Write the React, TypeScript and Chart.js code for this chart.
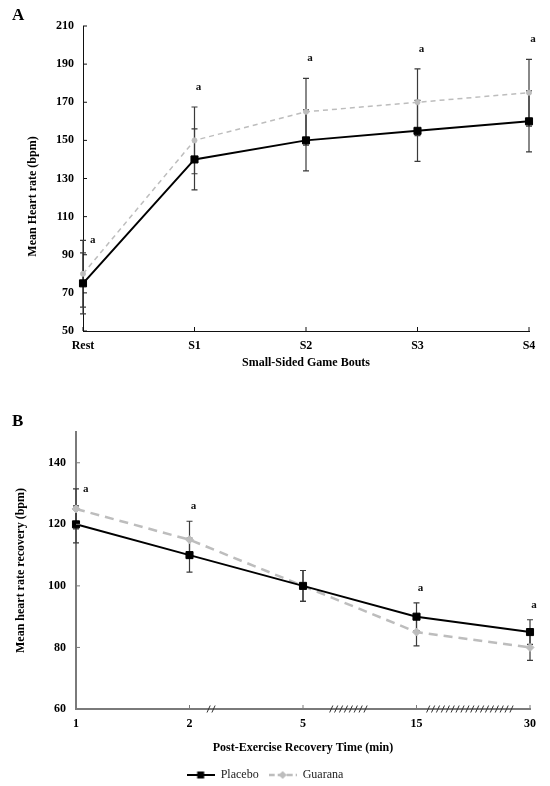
import React, { useEffect, useRef } from 'react';
import Chart from 'chart.js/auto';

const SERIF = "'Liberation Serif', 'Times New Roman', serif";
Chart.defaults.font.family = SERIF;

// Panel A: heart rate during small-sided game bouts
const boutLabels = ['Rest', 'S1', 'S2', 'S3', 'S4'];
const boutPlacebo = [75, 140, 150, 155, 160];
const boutGuarana = [80, 150, 165, 170, 175];
const boutPlaceboSd = [16, 16, 16, 16, 16];
const boutGuaranaSd = [17.5, 17.5, 17.5, 17.5, 17.5];
const boutSig = ['a', 'a', 'a', 'a', 'a'];
const boutTicks = [50, 70, 90, 110, 130, 150, 170, 190, 210];

// Panel B: heart rate recovery
const recoveryLabels = ['1', '2', '5', '15', '30'];
const recoveryPlacebo = [120, 110, 100, 90, 85];
const recoveryGuarana = [125, 115, 100, 85, 80];
const recoveryPlaceboSd = [6, 5.5, 5, 4.5, 4];
const recoveryGuaranaSd = [6.5, 6, 5, 4.5, 4.2];
const recoverySig = ['a', 'a', '', 'a', 'a'];
const recoveryTicks = [60, 80, 100, 120, 140];
// axis break marks (position between categories, number of slashes)
const recoveryBreakAt = [1.19, 2.4, 3.47];
const recoveryBreakCount = [2, 8, 18];

type Decor = {
  sd: number[][];
  sig: string[];
  sigGap: number;
  axisColor: string;
  breakAt?: number[];
  breakCount?: number[];
};

const makeDecor = (d: Decor) => ({
  id: 'decor',
  beforeDatasetsDraw(chart: any) {
    const { ctx } = chart;
    const xs = chart.scales.x;
    const ys = chart.scales.y;
    ctx.save();
    ctx.strokeStyle = '#3a3a3a';
    ctx.lineWidth = 1.2;
    chart.data.datasets.forEach((ds: any, k: number) => {
      (ds.data as number[]).forEach((v, i) => {
        const e = d.sd[k][i];
        const x = xs.getPixelForValue(i);
        const y1 = ys.getPixelForValue(v + e);
        const y2 = ys.getPixelForValue(v - e);
        ctx.beginPath();
        ctx.moveTo(x, y1);
        ctx.lineTo(x, y2);
        ctx.moveTo(x - 3, y1);
        ctx.lineTo(x + 3, y1);
        ctx.moveTo(x - 3, y2);
        ctx.lineTo(x + 3, y2);
        ctx.stroke();
      });
    });
    ctx.restore();
  },
  afterDraw(chart: any) {
    const { ctx } = chart;
    const xs = chart.scales.x;
    const ys = chart.scales.y;
    ctx.save();
    // inward tick marks
    ctx.strokeStyle = d.axisColor;
    ctx.lineWidth = 1;
    ctx.beginPath();
    xs.ticks.forEach((_: any, i: number) => {
      const x = xs.getPixelForTick(i);
      ctx.moveTo(x, xs.top);
      ctx.lineTo(x, xs.top - 4);
    });
    ys.ticks.forEach((_: any, i: number) => {
      const y = ys.getPixelForTick(i);
      ctx.moveTo(ys.right, y);
      ctx.lineTo(ys.right + 4, y);
    });
    ctx.stroke();

    // significance letters
    ctx.fillStyle = '#111';
    ctx.font = `bold 11px ${SERIF}`;
    ctx.textBaseline = 'middle';
    d.sig.forEach((s, i) => {
      if (!s) return;
      let top = -Infinity;
      chart.data.datasets.forEach((ds: any, k: number) => {
        top = Math.max(top, ds.data[i] + d.sd[k][i]);
      });
      const x = xs.getPixelForValue(i);
      const y = ys.getPixelForValue(top);
      if (i === 0) {
        ctx.textAlign = 'left';
        ctx.fillText(s, x + 7, y);
      } else {
        ctx.textAlign = 'center';
        ctx.fillText(s, x + 4, y - d.sigGap);
      }
    });

    // axis break slashes
    if (d.breakAt && d.breakCount) {
      ctx.strokeStyle = '#333';
      ctx.lineWidth = 1;
      ctx.beginPath();
      d.breakAt.forEach((at, j) => {
        const n = d.breakCount![j];
        const cx = xs.getPixelForValue(at);
        const step = 4.9;
        const start = cx - ((n - 1) * step) / 2;
        for (let m = 0; m < n; m++) {
          const x = start + m * step;
          ctx.moveTo(x - 1.6, xs.top + 3.5);
          ctx.lineTo(x + 1.6, xs.top - 3.5);
        }
      });
      ctx.stroke();
    }
    ctx.restore();
  },
});

const makeIcon = (kind: 'placebo' | 'guarana') => {
  const c = document.createElement('canvas');
  c.width = 28;
  c.height = 10;
  const g = c.getContext('2d')!;
  if (kind === 'placebo') {
    g.strokeStyle = '#000';
    g.lineWidth = 2;
    g.beginPath();
    g.moveTo(0, 5);
    g.lineTo(28, 5);
    g.stroke();
    g.fillStyle = '#000';
    g.fillRect(10.5, 1.5, 7, 7);
  } else {
    g.strokeStyle = '#bdbdbd';
    g.lineWidth = 2.5;
    g.setLineDash([6, 3]);
    g.beginPath();
    g.moveTo(0, 5);
    g.lineTo(28, 5);
    g.stroke();
    g.fillStyle = '#bdbdbd';
    g.beginPath();
    g.moveTo(14, 1);
    g.lineTo(18, 5);
    g.lineTo(14, 9);
    g.lineTo(10, 5);
    g.closePath();
    g.fill();
  }
  return c;
};

const tickFont = { size: 12, weight: 'bold' as const };

const App: React.FC = () => {
  const refA = useRef<HTMLCanvasElement>(null);
  const refB = useRef<HTMLCanvasElement>(null);

  useEffect(() => {
    if (!refA.current || !refB.current) return;

    const chartA = new Chart(refA.current, {
      type: 'line',
      data: {
        labels: boutLabels,
        datasets: [
          {
            label: 'Placebo',
            data: boutPlacebo,
            borderColor: '#000',
            backgroundColor: '#000',
            borderWidth: 2,
            pointStyle: 'rect',
            pointRadius: 5,
            pointBorderWidth: 1,
            clip: false,
          },
          {
            label: 'Guarana',
            data: boutGuarana,
            borderColor: '#bdbdbd',
            backgroundColor: '#bdbdbd',
            borderWidth: 1.5,
            borderDash: [5, 4],
            pointStyle: 'circle',
            pointRadius: 2.5,
            pointBorderWidth: 1,
            clip: false,
          },
        ],
      },
      options: {
        responsive: false,
        animation: false,
        layout: { padding: { top: 26, right: 21, bottom: 0, left: 0 } },
        plugins: { legend: { display: false }, tooltip: { enabled: false } },
        scales: {
          x: {
            type: 'category',
            offset: false,
            grid: { display: false, drawTicks: false },
            border: { display: true, color: '#111', width: 1 },
            ticks: { padding: 8, color: '#000', font: tickFont, maxRotation: 0, autoSkip: false },
            title: {
              display: true,
              text: 'Small-Sided Game Bouts',
              color: '#000',
              font: tickFont,
              padding: { top: 0, bottom: 20 },
            },
            afterFit: (s: any) => {
              s.height = 59;
            },
          },
          y: {
            min: 50,
            max: 210,
            grid: { display: false, drawTicks: false },
            border: { display: true, color: '#111', width: 1 },
            ticks: { padding: 9, color: '#000', font: tickFont },
            afterBuildTicks: (s: any) => {
              s.ticks = boutTicks.map((v) => ({ value: v }));
            },
            title: {
              display: true,
              text: 'Mean Heart rate (bpm)            ',
              color: '#000',
              font: tickFont,
              padding: { top: 26, bottom: 0 },
            },
            afterFit: (s: any) => {
              s.width = 83;
            },
          },
        },
      },
      plugins: [makeDecor({ sd: [boutPlaceboSd, boutGuaranaSd], sig: boutSig, sigGap: 20, axisColor: '#111' })],
    });

    const icons = [makeIcon('placebo'), makeIcon('guarana')];

    const chartB = new Chart(refB.current, {
      type: 'line',
      data: {
        labels: recoveryLabels,
        datasets: [
          {
            label: 'Placebo',
            data: recoveryPlacebo,
            borderColor: '#000',
            backgroundColor: '#000',
            borderWidth: 2,
            pointStyle: 'rect',
            pointRadius: 5,
            pointBorderWidth: 1,
            clip: false,
          },
          {
            label: 'Guarana',
            data: recoveryGuarana,
            borderColor: '#bdbdbd',
            backgroundColor: '#bdbdbd',
            borderWidth: 2.5,
            borderDash: [9, 6],
            pointStyle: 'rectRot',
            pointRadius: 4,
            pointBorderWidth: 1,
            clip: false,
          },
        ],
      },
      options: {
        responsive: false,
        animation: false,
        layout: { padding: { top: 42, right: 20, bottom: 0, left: 0 } },
        plugins: {
          tooltip: { enabled: false },
          legend: {
            display: true,
            position: 'bottom',
            labels: {
              usePointStyle: true,
              pointStyleWidth: 28,
              padding: 10,
              color: '#222',
              font: { size: 12, weight: 'normal' },
              generateLabels: (chart: any) =>
                Chart.defaults.plugins.legend.labels
                  .generateLabels(chart)
                  .map((l: any, i: number) => ({ ...l, pointStyle: icons[i] })),
            },
          },
        },
        scales: {
          x: {
            type: 'category',
            offset: false,
            grid: { display: false, drawTicks: false },
            border: { display: true, color: '#7a7a7a', width: 2 },
            ticks: { padding: 8, color: '#000', font: tickFont, maxRotation: 0, autoSkip: false },
            title: {
              display: true,
              text: 'Post-Exercise Recovery Time (min)',
              color: '#000',
              font: tickFont,
              padding: { top: 0, bottom: 3.5 },
            },
            afterFit: (s: any) => {
              s.height = 50;
            },
          },
          y: {
            min: 60,
            max: 150,
            grid: { display: false, drawTicks: false },
            border: { display: true, color: '#7a7a7a', width: 2 },
            ticks: { padding: 10, color: '#000', font: tickFont },
            afterBuildTicks: (s: any) => {
              s.ticks = recoveryTicks.map((v) => ({ value: v }));
            },
            title: {
              display: true,
              text: 'Mean heart rate recovery (bpm)',
              color: '#000',
              font: tickFont,
              padding: { top: 14, bottom: 0 },
            },
            afterFit: (s: any) => {
              s.width = 76;
            },
          },
        },
      },
      plugins: [
        makeDecor({
          sd: [recoveryPlaceboSd, recoveryGuaranaSd],
          sig: recoverySig,
          sigGap: 15,
          axisColor: '#7a7a7a',
          breakAt: recoveryBreakAt,
          breakCount: recoveryBreakCount,
        }),
      ],
    });

    return () => {
      chartA.destroy();
      chartB.destroy();
    };
  }, []);

  const letter: React.CSSProperties = {
    position: 'absolute',
    left: 12,
    font: `bold 17px ${SERIF}`,
    lineHeight: '17px',
    color: '#000',
  };

  return (
    <div
      style={{
        position: 'fixed',
        left: 0,
        top: 0,
        width: 550,
        height: 786,
        overflow: 'hidden',
        background: '#fff',
      }}
    >
      <canvas ref={refA} width={550} height={390} style={{ position: 'absolute', left: 0, top: 0 }} />
      <canvas ref={refB} width={550} height={401} style={{ position: 'absolute', left: 0, top: 390 }} />
      <div style={{ ...letter, top: 6 }}>A</div>
      <div style={{ ...letter, top: 412 }}>B</div>
    </div>
  );
};

export default App;
